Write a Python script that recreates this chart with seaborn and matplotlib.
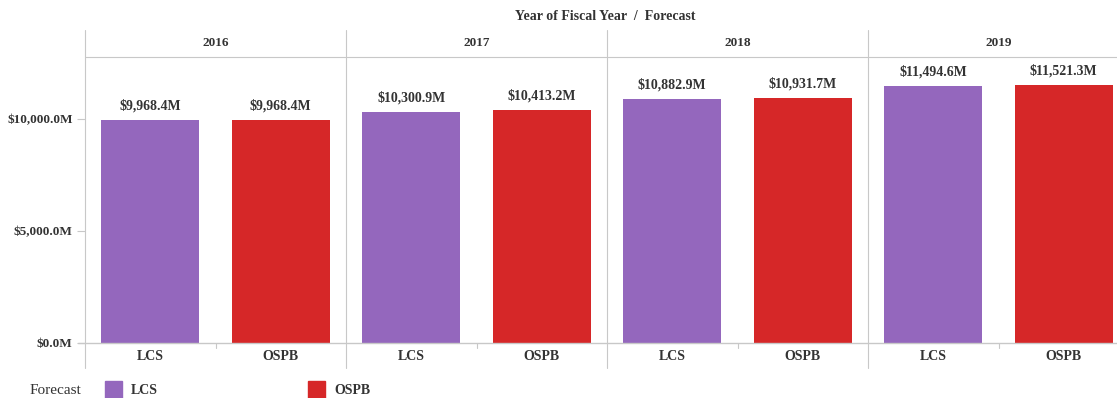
import matplotlib
matplotlib.use("Agg")
import matplotlib.pyplot as plt
import matplotlib.transforms as mtransforms
from matplotlib.patches import Rectangle
import seaborn as sns
import pandas as pd

# Fiscal-year forecasts, in millions of dollars
years = ["2016", "2017", "2018", "2019"]
forecasts = ["LCS", "OSPB"]
lcs_values = [9968.4, 10300.9, 10882.9, 11494.6]
ospb_values = [9968.4, 10413.2, 10931.7, 11521.3]
y_ticks = [0, 5000, 10000]
palette = {"LCS": "#9467bd", "OSPB": "#d62728"}

rows = []
for yr, lcs, ospb in zip(years, lcs_values, ospb_values):
    rows.append({"Year": yr, "Forecast": "LCS", "Slot": f"{yr} LCS", "Value": lcs})
    rows.append({"Year": yr, "Forecast": "OSPB", "Slot": f"{yr} OSPB", "Value": ospb})
df = pd.DataFrame(rows)

sns.set_theme(style="white")
plt.rcParams["font.family"] = ["Liberation Serif", "DejaVu Serif"]

W, H = 1117, 398
fig = plt.figure(figsize=(W / 100, H / 100), dpi=100)

def fx(px):
    return px / W

def fy(py):
    return 1 - py / H

left_px, right_px, top_px, base_px = 85, 1129, 57, 343
ax = fig.add_axes([fx(left_px), fy(base_px), fx(right_px - left_px), (base_px - top_px) / H])

sns.barplot(data=df, x="Slot", y="Value", hue="Forecast", palette=palette,
            dodge=False, width=0.75, saturation=1, legend=False, linewidth=0, ax=ax)

ymax = (base_px - top_px) / 224 * 10000
ax.set_ylim(0, ymax)
ax.set_xlim(-0.5, len(df) - 0.5)

for spine in ax.spines.values():
    spine.set_visible(False)

grey = "#c8c8c8"
dark = "#333333"

# value labels above each bar
for i, v in enumerate(df["Value"]):
    ax.text(i, v + 330, f"${v:,.1f}M", ha="center", va="bottom",
            fontsize=10, fontweight="bold", color=dark)

# y axis
ax.set_yticks(y_ticks)
ax.set_yticklabels([f"${t:,.1f}M" for t in y_ticks], fontsize=9.5,
                   fontweight="bold", color=dark)
ax.tick_params(axis="y", length=6, width=0.8, color=grey, pad=3, left=True)

# x axis: forecast labels under each bar
ax.set_xticks(range(len(df)))
ax.set_xticklabels(df["Forecast"], fontsize=10, fontweight="bold", color=dark)
ax.tick_params(axis="x", length=0, pad=5)
ax.set_xlabel("")
ax.set_ylabel("")

# baseline
ax.axhline(0, xmin=-7 / (right_px - left_px), xmax=1, color=grey, lw=1, clip_on=False)

# small divider ticks between bars within a year
trans = mtransforms.blended_transform_factory(ax.transData, fig.transFigure)
for k in range(len(years)):
    xm = 2 * k + 0.5
    ax.plot([xm, xm], [fy(base_px), fy(base_px + 5)], color=grey, lw=0.8,
            transform=trans, clip_on=False)

# panel separators and header
for k in range(len(years) + 1):
    xb = 2 * k - 0.5
    ax.plot([xb, xb], [fy(30), fy(368)], color=grey, lw=0.8,
            transform=trans, clip_on=False)
ax.plot([-0.5, len(df) - 0.5], [fy(top_px), fy(top_px)], color=grey, lw=0.8,
        transform=trans, clip_on=False)
for k, yr in enumerate(years):
    ax.text(2 * k + 0.5, fy(43), yr, transform=trans, ha="center", va="center",
            fontsize=9.5, color=dark, fontweight="semibold")

fig.text(fx(605), fy(16), "Year of Fiscal Year  /  Forecast", ha="center", va="center",
         fontsize=10, fontweight="bold", color=dark)

# legend
fig.text(fx(30), fy(391), "Forecast", ha="left", va="center", fontsize=11, color=dark)
for name, sx in zip(forecasts, [105, 308]):
    fig.patches.append(Rectangle((fx(sx), fy(398)), fx(17), 17 / H,
                                 transform=fig.transFigure, color=palette[name]))
    fig.text(fx(sx + 26), fy(391), name, ha="left", va="center", fontsize=10,
             fontweight="bold", color=dark)

fig.savefig("out.png", dpi=100)
